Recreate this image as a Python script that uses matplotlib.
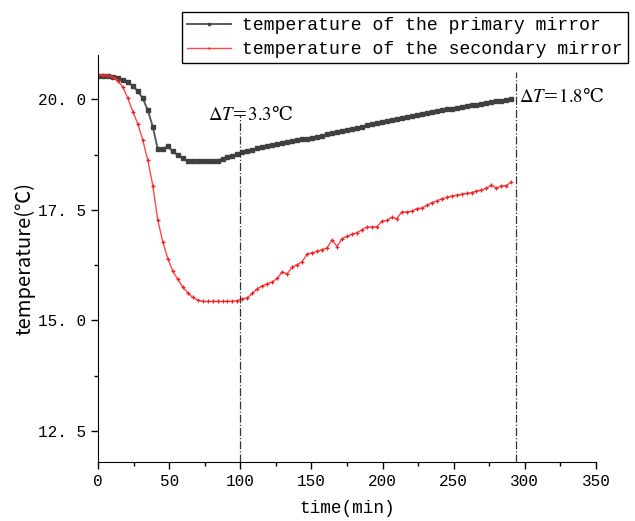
import numpy as np
import matplotlib
matplotlib.use("Agg")
import matplotlib.pyplot as plt
from matplotlib.ticker import MultipleLocator

# ---- data ----
time_min = np.arange(84) * 3.5
primary = [20.52, 20.52, 20.52, 20.51, 20.48, 20.44, 20.38, 20.30, 20.18, 20.02,
           19.75, 19.38, 18.87, 18.87, 18.94, 18.82, 18.74, 18.67, 18.61, 18.60,
           18.60, 18.60, 18.60, 18.60, 18.61, 18.66, 18.69, 18.72, 18.76, 18.80,
           18.83, 18.86, 18.89, 18.91, 18.94, 18.96, 18.99, 19.01, 19.03, 19.05,
           19.07, 19.09, 19.11, 19.13, 19.15, 19.18, 19.21, 19.23, 19.26, 19.28,
           19.31, 19.33, 19.36, 19.38, 19.41, 19.44, 19.46, 19.49, 19.51, 19.53,
           19.56, 19.58, 19.60, 19.62, 19.65, 19.67, 19.69, 19.71, 19.73, 19.75,
           19.77, 19.79, 19.81, 19.83, 19.85, 19.86, 19.88, 19.89, 19.91, 19.93,
           19.95, 19.96, 19.98, 20.00]
secondary = [20.54, 20.54, 20.53, 20.50, 20.42, 20.27, 20.02, 19.72, 19.44, 19.07,
             18.62, 18.05, 17.27, 16.78, 16.40, 16.12, 15.93, 15.76, 15.63, 15.52,
             15.46, 15.43, 15.43, 15.43, 15.43, 15.43, 15.43, 15.43, 15.45, 15.49,
             15.51, 15.61, 15.72, 15.78, 15.83, 15.87, 15.95, 16.10, 16.05, 16.21,
             16.26, 16.33, 16.50, 16.53, 16.56, 16.60, 16.64, 16.82, 16.67, 16.85,
             16.90, 16.95, 16.98, 17.05, 17.11, 17.11, 17.12, 17.24, 17.26, 17.33,
             17.30, 17.45, 17.45, 17.47, 17.53, 17.54, 17.60, 17.66, 17.70, 17.75,
             17.78, 17.81, 17.83, 17.85, 17.87, 17.89, 17.92, 17.95, 17.99, 18.06,
             17.99, 18.04, 18.05, 18.13]
series_labels = ["temperature of the primary mirror",
                 "temperature of the secondary mirror"]
ref_times = [100, 294]
ref_tops = [19.64, 20.62]
annotations = ["3.3", "1.8"]
annot_x = [77, 296]
annot_y = [19.66, 20.06]

plt.rcParams['mathtext.fontset'] = 'stix'

fig = plt.figure(figsize=(6.35, 5.21), dpi=100)
ax = fig.add_axes([98/635, 1-462/521, (596-98)/635, (462-55)/521])

l1, = ax.plot(time_min, primary, color='#5a5a5a', lw=1.4, marker='s', ms=3.2,
              mfc='#404040', mec='#404040', label=series_labels[0])
l2, = ax.plot(time_min, secondary, color='#ff4848', lw=1.0, marker='+', ms=3.5,
              mew=0.9, mec='#ee2020', label=series_labels[1])

ax.vlines(ref_times, [11.8, 11.8], ref_tops, colors='#333333', linestyles='-.', lw=0.9)

for txt, x, y in zip(annotations, annot_x, annot_y):
    ax.text(x, y, r"$\Delta T$=$" + txt + r"$℃", fontsize=13.5,
            family=['DejaVu Serif'], va='center', ha='left')

ax.set_xlim(0, 350)
ax.set_ylim(11.8, 21.0)
ax.xaxis.set_major_locator(MultipleLocator(50))
ax.xaxis.set_minor_locator(MultipleLocator(25))
ax.yaxis.set_major_locator(MultipleLocator(2.5))
ax.yaxis.set_minor_locator(MultipleLocator(1.25))
ax.yaxis.set_major_formatter(matplotlib.ticker.FuncFormatter(lambda v, p: f"{v:.1f}".replace('.', '. ')))
ax.spines['top'].set_visible(False)
ax.spines['right'].set_visible(False)
ax.tick_params(which='major', direction='out', length=5, width=1, labelsize=11.5)
ax.tick_params(which='minor', direction='out', length=3, width=1)
for lab in ax.get_xticklabels() + ax.get_yticklabels():
    lab.set_family('Liberation Mono')

ax.set_xlabel("time(min)", fontsize=12.8, family=['Liberation Mono', 'DejaVu Sans'], labelpad=8)
ax.set_ylabel("temperature(℃)", fontsize=14.5, family=['Noto Sans CJK SC', 'DejaVu Sans'], labelpad=2)

leg = fig.legend(handles=[l1, l2], loc='upper left', bbox_to_anchor=(182/635, 1-12/521),
                 prop={'family': 'Liberation Mono', 'size': 13.1}, frameon=True,
                 fancybox=False, edgecolor='black', framealpha=1, borderpad=0.3,
                 labelspacing=0.36, handlelength=2.4, handletextpad=0.6, borderaxespad=0,
                 markerscale=0.5)
leg.get_frame().set_linewidth(1.0)

fig.savefig("out.png", dpi=100)
